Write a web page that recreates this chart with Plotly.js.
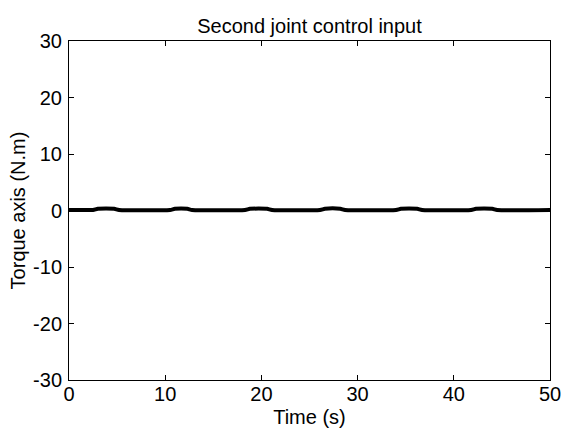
<!DOCTYPE html>
<html>
<head>
<meta charset="utf-8">
<script src="https://cdn.plot.ly/plotly-3.0.1.min.js"></script>
<style>html,body{margin:0;padding:0;background:#fff;}#chart{width:563px;height:431px;}</style>
</head>
<body>
<div id="chart"></div>
<script>
// Data
const timeS = [0, 2.5, 3.0, 4.7, 5.2, 10.5, 11.0, 12.3, 12.8, 18.3, 18.8, 20.6, 21.1, 26.1, 26.6, 28.2, 28.7, 34.0, 34.5, 36.2, 36.7, 41.8, 42.3, 44.0, 44.5, 50];
const torque = [0.1, 0.1, 0.3, 0.3, 0.1, 0.1, 0.3, 0.3, 0.1, 0.1, 0.3, 0.3, 0.1, 0.1, 0.3, 0.3, 0.1, 0.1, 0.3, 0.3, 0.1, 0.1, 0.3, 0.3, 0.1, 0.1];
const xTicks = [0, 10, 20, 30, 40, 50];
const xTickText = ["0", "10", "20", "30", "40", "50"];
const yTicks = [-30, -20, -10, 0, 10, 20, 30];
const yTickText = ["-30", "-20", "-10", "0", "10", "20", "30"];
const titleText = "Second joint control input";
const xLabel = "Time (s)";
const yLabel = "Torque axis (N.m)";

const font = {family: "Liberation Sans, Arial, sans-serif", size: 20, color: "#000"};

const trace = {
  x: timeS, y: torque, type: "scatter", mode: "lines",
  line: {color: "#000", width: 4, shape: "spline", smoothing: 0.6},
  hoverinfo: "skip"
};

const axisCommon = {
  showline: true, linecolor: "#000", linewidth: 1, mirror: "ticks",
  ticks: "inside", ticklen: 5, tickwidth: 1, tickcolor: "#000",
  showgrid: false, zeroline: false, tickfont: font, tickmode: "array"
};

const layout = {
  width: 563, height: 431,
  margin: {l: 69, r: 13, t: 41, b: 51, pad: 0},
  paper_bgcolor: "#fff", plot_bgcolor: "#fff",
  font: font,
  showlegend: false,
  title: {text: titleText, font: font, x: 0.5, xref: "paper", y: 1, yref: "paper", yanchor: "bottom", pad: {b: 8}},
  xaxis: Object.assign({}, axisCommon, {
    range: [0, 50], tickvals: xTicks, ticktext: xTickText, ticklabelstandoff: -4,
    title: {text: xLabel, font: font, standoff: 5}
  }),
  yaxis: Object.assign({}, axisCommon, {
    range: [-30, 30], tickvals: yTicks, ticktext: yTickText, ticklabelstandoff: 2,
    title: {text: yLabel, font: font, standoff: 2}
  })
};

Plotly.newPlot("chart", [trace], layout, {staticPlot: true, displayModeBar: false});
</script>
</body>
</html>
